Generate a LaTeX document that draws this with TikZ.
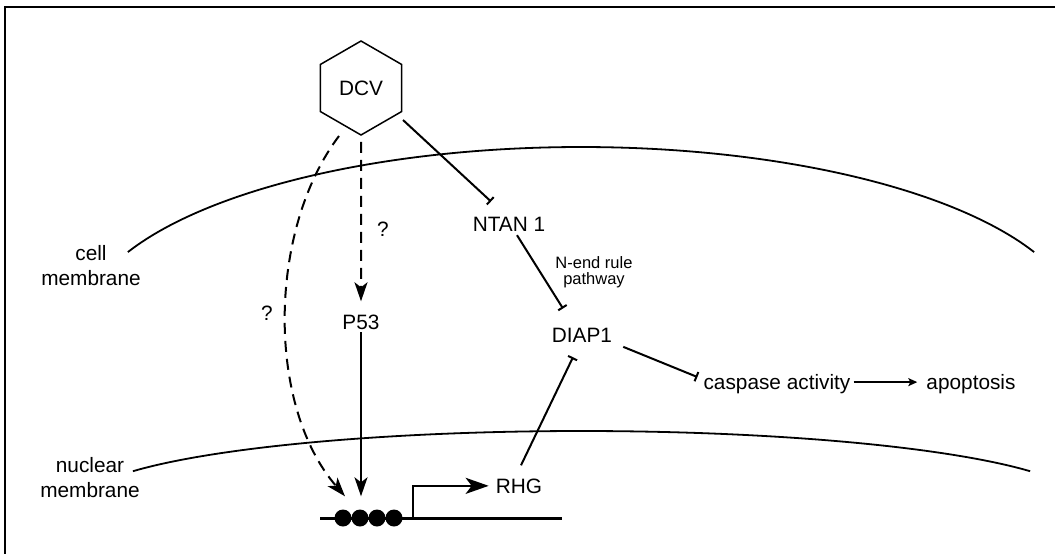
\documentclass[tikz,border=0pt]{standalone}
\usepackage{fontspec}
\setmainfont{Liberation Sans}
\usetikzlibrary{arrows.meta,shapes.geometric,calc}

\tikzset{
  lbl/.style={inner sep=3pt, font=\fontsize{20.8}{25}\selectfont},
  small/.style={inner sep=1pt, align=center, font=\fontsize{16.5}{16}\selectfont},
  virus/.style={draw, line width=1.5pt, regular polygon, regular polygon sides=6,
    shape border rotate=30, minimum size=94pt, inner sep=0pt,
    font=\fontsize{20.8}{25}\selectfont},
  membrane/.style={line width=1.8pt},
  conn/.style={line width=2pt},
  dashconn/.style={line width=2pt, dash pattern=on 11pt off 7pt},
  inhib/.style={conn, -{Bar[width=10pt, line width=2pt]}},
  act/.style={-{Stealth[length=19pt, width=13pt, inset=5pt]}},
  site/.style={circle, fill=black, inner sep=0pt, minimum size=17pt}
}

\begin{document}
\begin{tikzpicture}[x=1pt, y=-1pt]
\useasboundingbox (0,0) rectangle (1055,554);

% outer frame (left and top edges)
\draw[line width=1.5pt] (5,560) -- (5,7) -- (1060,7);

% cell membrane and nuclear membrane
\draw[membrane] plot[domain=205:335, samples=80, smooth]
  ({581+500*cos(\x)}, {329+182*sin(\x)});
\draw[membrane] plot[domain=206.2:333.8, samples=80, smooth]
  ({581.5+500*cos(\x)}, {503+72*sin(\x)});

% membrane labels (base anchor sits on the last line)
\node[lbl, align=center, anchor=base] (cellm) at (91,285) {cell\\membrane};
\node[lbl, align=center, anchor=base] (nucm) at (90,497) {nuclear\\membrane};

% virus
\node[virus] (dcv) at (361,88) {DCV};

% factors
\node[lbl, anchor=base] (ntan) at (509,231) {NTAN 1};
\node[lbl, anchor=base] (p53) at (361,329) {P53};
\node[lbl, anchor=base] (diap) at (582,342) {DIAP1};
\node[lbl, anchor=base] (casp) at (777,389) {caspase activity};
\node[lbl, anchor=base] (apop) at (971,389) {apoptosis};
\node[lbl, anchor=base] (rhg) at (519,493) {RHG};
\node[small, anchor=base] (nend) at (594,284) {N-end rule\\pathway};
\node[lbl, anchor=base] (q1) at (383,236) {?};
\node[lbl, anchor=base] (q2) at (267,320) {?};

% gene: DNA strand, binding sites and promoter
\coordinate (dnaL) at (320,518);
\coordinate (dnaR) at (562,518);
\coordinate (prom) at (413,518);
\draw[line width=3pt] (dnaL) -- (dnaR);
\node[site] (c1) at (343,518) {};
\node[site] (c2) at (360,518) {};
\node[site] (c3) at (377,518) {};
\node[site] (c4) at (394,518) {};
\draw[line width=2.6pt, -{Stealth[length=23pt, width=16pt, inset=6pt]}]
  (prom) |- ([xshift=-4pt]rhg.west);

% virus to p53 and to the gene
\draw[dashconn, act] ([yshift=-6pt]dcv.south) -- ($(p53.north)+(0,-10)$);
\draw[conn, act] (p53.south) -- ($(c2.north)+(1,-13)$);
\draw[dashconn, act] ($(dcv.center)+(-22,48)$)
  .. controls (268,230) and (266,405) .. ($(c1.north)+(2,-13)$);

% inhibitions
\draw[inhib] ($(dcv.center)+(42,32)$) -- ($(ntan.north)+(-18,-12)$);
\draw[inhib] ($(ntan.south)+(8,1)$) -- ($(diap.north)+(-19,-16)$);
\draw[inhib] ($(rhg.north)+(2,-10)$) -- ($(diap.south)+(-9,12)$);
\draw[inhib] ($(diap.east)+(8,12)$) -- ($(casp.west)+(-3,-6.6)$);

% caspase activity leads to apoptosis
\draw[line width=2.4pt, -{Stealth[length=9pt, width=8pt, inset=2pt]}]
  ([yshift=1.5pt]casp.east) -- ([xshift=-6pt, yshift=1.5pt]apop.west);
\end{tikzpicture}
\end{document}
